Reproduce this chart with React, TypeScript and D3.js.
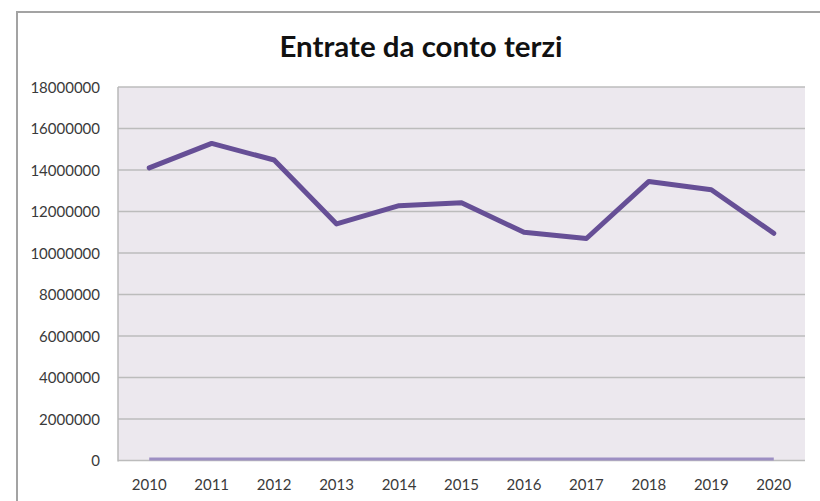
import React from "react";
import * as d3 from "d3";

const years = ["2010", "2011", "2012", "2013", "2014", "2015", "2016", "2017", "2018", "2019", "2020"];
const entrate = [14100000, 15280000, 14480000, 11400000, 12280000, 12420000, 11000000, 10700000, 13450000, 13050000, 10950000];
const zeroSeries = [0, 0, 0, 0, 0, 0, 0, 0, 0, 0, 0];
const yTicks = [0, 2000000, 4000000, 6000000, 8000000, 10000000, 12000000, 14000000, 16000000, 18000000];
const title = "Entrate da conto terzi";

const W = 820;
const H = 501;
const plot = { left: 118, right: 805, top: 87, bottom: 460.5 };

export default function App() {
  const x = d3.scaleBand<string>().domain(years).range([plot.left, plot.right]);
  const y = d3.scaleLinear().domain([0, 18000000]).range([plot.bottom, plot.top]);
  const cx = (d: string) => (x(d) as number) + x.bandwidth() / 2;

  const line = d3
    .line<number>()
    .x((_, i) => cx(years[i]))
    .y((v) => y(v));

  const font = "Lato, 'Open Sans', sans-serif";

  return (
    <svg
      width={W}
      height={H}
      style={{ position: "absolute", left: 0, top: 0, background: "#fff" }}
    >
      <rect x={17} y={12} width={W} height={H} fill="#fff" stroke="#a3a3a3" strokeWidth={2} />
      <text
        x={421}
        y={57}
        textAnchor="middle"
        fontFamily={font}
        fontWeight={700}
        fontSize={29}
        fill="#111"
        textLength={283}
        lengthAdjust="spacingAndGlyphs"
      >
        {title}
      </text>
      <rect
        x={plot.left}
        y={plot.top}
        width={plot.right - plot.left}
        height={plot.bottom - plot.top}
        fill="#ece8ee"
      />
      {yTicks.map((t) => (
        <g key={t}>
          <line
            x1={plot.left}
            x2={plot.right}
            y1={y(t)}
            y2={y(t)}
            stroke="#bcbcbc"
            strokeWidth={t === 0 ? 1.5 : 1.5}
          />
          <text
            x={100}
            y={y(t) + 5.5}
            textAnchor="end"
            fontFamily={font}
            fontSize={15}
            fill="#3a3a3a"
          >
            {t}
          </text>
        </g>
      ))}
      <line x1={plot.left} x2={plot.left} y1={plot.top} y2={plot.bottom + 1} stroke="#b8b8b8" strokeWidth={1.5} />
      {years.map((yr) => (
        <text
          key={yr}
          x={cx(yr)}
          y={490}
          textAnchor="middle"
          fontFamily={font}
          fontSize={15}
          fill="#3a3a3a"
        >
          {yr}
        </text>
      ))}
      <path
        d={line(zeroSeries) || ""}
        fill="none"
        stroke="#9d8fc3"
        strokeWidth={3}
        transform="translate(0,-1.5)"
      />
      <path
        d={line(entrate) || ""}
        fill="none"
        stroke="#664f96"
        strokeWidth={5}
        strokeLinejoin="round"
        strokeLinecap="round"
      />
    </svg>
  );
}
